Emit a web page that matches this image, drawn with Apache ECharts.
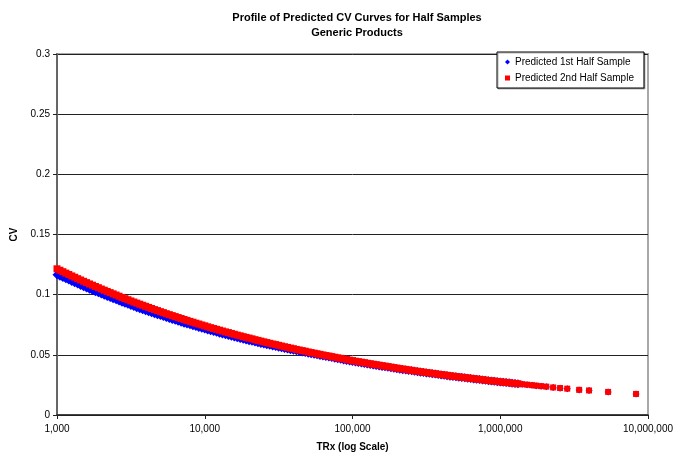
<!DOCTYPE html>
<html>
<head>
<meta charset="utf-8">
<script src="https://cdn.jsdelivr.net/npm/echarts@6/dist/echarts.min.js"></script>
<style>
  html, body { margin: 0; padding: 0; background: #fff; }
  #chart { width: 687px; height: 457px; }
</style>
</head>
<body>
<div id="chart"></div>
<script>
// TRx values shared by both half samples
const trx = [
  1000, 1047, 1096, 1148, 1202, 1259, 1318, 1380, 1445, 1514, 1585, 1660, 1738, 1820, 1905, 1995, 2089, 2188, 2291, 2399,
  2512, 2630, 2754, 2884, 3020, 3162, 3311, 3467, 3631, 3802, 3981, 4169, 4365, 4571, 4786, 5012, 5248, 5495, 5754, 6026,
  6310, 6607, 6918, 7244, 7586, 7943, 8318, 8710, 9120, 9550,
  10000, 10470, 10960, 11480, 12020, 12590, 13180, 13800, 14450, 15140, 15850, 16600, 17380, 18200, 19050, 19950, 20890, 21880, 22910, 23990,
  25120, 26300, 27540, 28840, 30200, 31620, 33110, 34670, 36310, 38020, 39810, 41690, 43650, 45710, 47860, 50120, 52480, 54950, 57540, 60260,
  63100, 66070, 69180, 72440, 75860, 79430, 83180, 87100, 91200, 95500,
  100000, 104700, 109600, 114800, 120200, 125900, 131800, 138000, 144500, 151400, 158500, 166000, 173800, 182000, 190500, 199500, 208900, 218800, 229100, 239900,
  251200, 263000, 275400, 288400, 302000, 316200, 331100, 346700, 363100, 380200, 398100, 416900, 436500, 457100, 478600, 501200, 524800, 549500, 575400, 602600,
  631000, 660700, 691800, 724400, 758600, 794300, 831800, 871000, 912000, 955000,
  1000000, 1047000, 1096000, 1148000, 1202000, 1259000, 1318000,
  1410000, 1520000, 1640000, 1750000, 1890000, 2050000, 2280000, 2540000, 2840000, 3420000, 3990000, 5370000, 8300000
];

// Predicted CV, 1st half sample
const cvFirstHalf = [
  0.1166, 0.1154, 0.1143, 0.1132, 0.1121, 0.1110, 0.1099, 0.1088, 0.1077, 0.1066, 0.1055, 0.1045, 0.1035, 0.1025, 0.1015, 0.1005, 0.0995, 0.0985, 0.0976, 0.0966,
  0.0957, 0.0947, 0.0938, 0.0929, 0.0920, 0.0910, 0.0901, 0.0892, 0.0884, 0.0875, 0.0867, 0.0858, 0.0850, 0.0842, 0.0834, 0.0826, 0.0818, 0.0810, 0.0802, 0.0794,
  0.0787, 0.0779, 0.0771, 0.0763, 0.0756, 0.0749, 0.0742, 0.0735, 0.0728, 0.0721,
  0.0714, 0.0707, 0.0700, 0.0693, 0.0687, 0.0680, 0.0674, 0.0667, 0.0661, 0.0654, 0.0648, 0.0642, 0.0636, 0.0630, 0.0624, 0.0618, 0.0613, 0.0607, 0.0601, 0.0595,
  0.0590, 0.0584, 0.0579, 0.0574, 0.0569, 0.0563, 0.0558, 0.0553, 0.0548, 0.0543, 0.0538, 0.0533, 0.0528, 0.0523, 0.0519, 0.0514, 0.0509, 0.0504, 0.0500, 0.0495,
  0.0490, 0.0486, 0.0482, 0.0477, 0.0472, 0.0467, 0.0463, 0.0458, 0.0453, 0.0448,
  0.0444, 0.0440, 0.0436, 0.0432, 0.0428, 0.0423, 0.0419, 0.0415, 0.0412, 0.0408, 0.0404, 0.0400, 0.0396, 0.0392, 0.0389, 0.0385, 0.0381, 0.0377, 0.0374, 0.0370,
  0.0367, 0.0363, 0.0360, 0.0356, 0.0353, 0.0349, 0.0346, 0.0343, 0.0340, 0.0336, 0.0333, 0.0330, 0.0327, 0.0323, 0.0320, 0.0317, 0.0314, 0.0311, 0.0309, 0.0306,
  0.0303, 0.0300, 0.0297, 0.0294, 0.0291, 0.0288, 0.0285, 0.0282, 0.0280, 0.0277,
  0.0274, 0.0272, 0.0270, 0.0267, 0.0264, 0.0261, 0.0259,
  0.0255, 0.0251, 0.0247, 0.0243, 0.0239, 0.0235, 0.0228, 0.0223, 0.0218, 0.0208, 0.0203, 0.0191, 0.0174
];

// Predicted CV, 2nd half sample
const cvSecondHalf = [
  0.1215, 0.1203, 0.1191, 0.1179, 0.1168, 0.1156, 0.1145, 0.1133, 0.1122, 0.1111, 0.1100, 0.1089, 0.1079, 0.1068, 0.1058, 0.1047, 0.1037, 0.1027, 0.1017, 0.1007,
  0.0997, 0.0987, 0.0977, 0.0967, 0.0958, 0.0948, 0.0939, 0.0930, 0.0921, 0.0912, 0.0903, 0.0894, 0.0885, 0.0876, 0.0868, 0.0859, 0.0851, 0.0842, 0.0834, 0.0826,
  0.0818, 0.0810, 0.0802, 0.0794, 0.0786, 0.0778, 0.0771, 0.0763, 0.0756, 0.0748,
  0.0741, 0.0733, 0.0726, 0.0719, 0.0712, 0.0705, 0.0698, 0.0691, 0.0685, 0.0678, 0.0671, 0.0664, 0.0658, 0.0651, 0.0645, 0.0639, 0.0633, 0.0626, 0.0620, 0.0614,
  0.0608, 0.0602, 0.0596, 0.0590, 0.0585, 0.0579, 0.0573, 0.0567, 0.0562, 0.0556, 0.0551, 0.0545, 0.0540, 0.0535, 0.0530, 0.0524, 0.0519, 0.0514, 0.0509, 0.0504,
  0.0499, 0.0494, 0.0490, 0.0485, 0.0480, 0.0475, 0.0471, 0.0466, 0.0461, 0.0456,
  0.0452, 0.0447, 0.0443, 0.0439, 0.0435, 0.0430, 0.0426, 0.0422, 0.0418, 0.0414, 0.0410, 0.0406, 0.0402, 0.0398, 0.0394, 0.0390, 0.0386, 0.0382, 0.0379, 0.0375,
  0.0371, 0.0367, 0.0364, 0.0360, 0.0357, 0.0353, 0.0350, 0.0346, 0.0343, 0.0339, 0.0336, 0.0333, 0.0330, 0.0326, 0.0323, 0.0320, 0.0317, 0.0314, 0.0311, 0.0308,
  0.0305, 0.0302, 0.0299, 0.0296, 0.0293, 0.0290, 0.0287, 0.0284, 0.0282, 0.0279,
  0.0276, 0.0273, 0.0271, 0.0268, 0.0265, 0.0262, 0.0260,
  0.0256, 0.0252, 0.0248, 0.0244, 0.0240, 0.0236, 0.0229, 0.0224, 0.0219, 0.0209, 0.0204, 0.0192, 0.0175
];

const seriesNames = ['Predicted 1st Half Sample', 'Predicted 2nd Half Sample'];
const yTicks = [0, 0.05, 0.1, 0.15, 0.2, 0.25, 0.3];

const FONT = '"Liberation Sans", Arial, Helvetica, sans-serif';

const pairs = (ys) => trx.map((x, i) => [x, ys[i]]);

// markers in the dense band are a touch larger than the isolated ones
const markerSize = (big, small) => (val) => (val[0] <= 1318000 ? big : small);

const chart = echarts.init(document.getElementById('chart'), null, { renderer: 'canvas' });

chart.setOption({
  animation: false,
  backgroundColor: '#ffffff',
  textStyle: { fontFamily: FONT },
  title: {
    text: 'Profile of Predicted CV Curves for Half Samples\nGeneric Products',
    left: 352,
    top: 5,
    textAlign: 'center',
    textStyle: { fontFamily: FONT, fontSize: 11, fontWeight: 'bold', color: '#000', lineHeight: 15 }
  },
  legend: {
    orient: 'vertical',
    left: 497,
    top: 52,
    padding: [5, 10, 5, 8],
    itemGap: 6,
    itemWidth: 5,
    itemHeight: 5,
    backgroundColor: '#fff',
    borderColor: '#000',
    borderWidth: 1,
    shadowColor: 'rgba(0,0,0,0.3)',
    shadowOffsetX: 1,
    shadowOffsetY: 1,
    textStyle: { fontFamily: FONT, fontSize: 10, color: '#000' },
    data: [
      { name: seriesNames[0], icon: 'diamond' },
      { name: seriesNames[1], icon: 'rect' }
    ]
  },
  grid: {
    left: 57,
    right: 39,
    top: 54,
    bottom: 41,
    show: true,
    borderColor: '#a8a8a8',
    borderWidth: 2,
    backgroundColor: '#fff'
  },
  xAxis: {
    type: 'log',
    logBase: 10,
    min: 1000,
    max: 10000000,
    name: 'TRx (log Scale)',
    nameLocation: 'middle',
    nameGap: 27,
    nameTextStyle: { fontFamily: FONT, fontSize: 10, fontWeight: 'bold', color: '#000' },
    axisLine: { show: true, lineStyle: { color: '#222', width: 1.5 } },
    axisTick: { show: true, length: 4, lineStyle: { color: '#222' } },
    minorTick: { show: false },
    splitLine: { show: false },
    axisLabel: {
      fontFamily: FONT, fontSize: 10, color: '#000', margin: 9,
      formatter: (v) => Math.round(v).toLocaleString('en-US')
    }
  },
  yAxis: {
    type: 'value',
    min: yTicks[0],
    max: yTicks[yTicks.length - 1],
    interval: 0.05,
    name: 'CV',
    nameLocation: 'middle',
    nameGap: 30,
    nameRotate: 90,
    nameTextStyle: { fontFamily: FONT, fontSize: 10, fontWeight: 'bold', color: '#000' },
    axisLine: { show: true, lineStyle: { color: '#666', width: 2 } },
    axisTick: { show: true, length: 4, lineStyle: { color: '#222' } },
    splitLine: { show: true, lineStyle: { color: '#222', width: 1 } },
    axisLabel: {
      fontFamily: FONT, fontSize: 10, color: '#000', margin: 7,
      formatter: (v) => String(+v.toFixed(2))
    }
  },
  series: [
    {
      name: seriesNames[0],
      type: 'scatter',
      symbol: 'diamond',
      symbolSize: markerSize(9, 7),
      itemStyle: { color: '#0000ff', opacity: 1 },
      data: pairs(cvFirstHalf),
      z: 2
    },
    {
      name: seriesNames[1],
      type: 'scatter',
      symbol: 'rect',
      symbolSize: markerSize(7, 6),
      itemStyle: { color: '#ff0000', opacity: 1 },
      data: pairs(cvSecondHalf),
      z: 3
    }
  ]
});
</script>
</body>
</html>
